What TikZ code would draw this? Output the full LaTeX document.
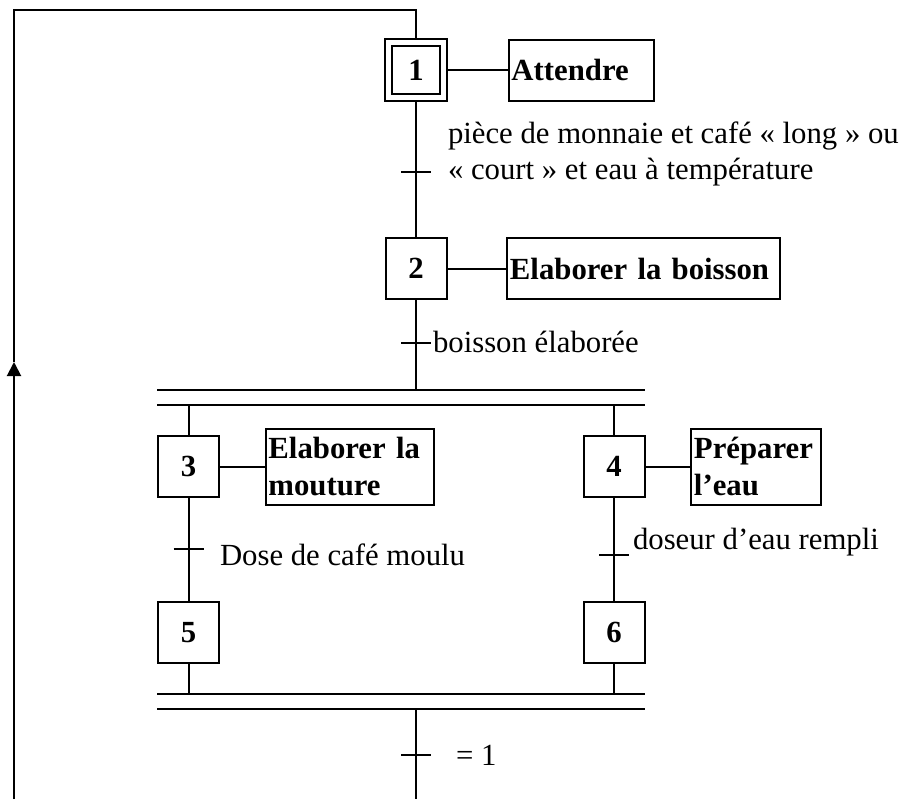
\documentclass[tikz,border=0pt]{standalone}
\usepackage{fontspec}
\setmainfont{Liberation Serif}
\usetikzlibrary{arrows.meta,positioning}

\begin{document}
\begin{tikzpicture}[
    x=0.02cm, y=-0.02cm,
    line width=0.04cm,
    every node/.style={font=\fontsize{17.5}{20.5}\selectfont},
    stepbox/.style={rectangle, draw, minimum size=1.22cm, inner sep=0pt, font=\fontsize{17.5}{20.5}\selectfont\bfseries},
    initstep/.style={stepbox, double, double distance=0.1cm, minimum size=1.1cm, outer sep=0.09cm},
    action/.style={rectangle, draw, align=left, inner xsep=0.05cm, inner ysep=0.05cm, minimum height=1.22cm, font=\fontsize{17.5}{20.5}\selectfont\bfseries},
    cond/.style={anchor=west, align=left, inner sep=0pt},
    arrow/.style={-{Triangle[length=0.28cm, width=0.28cm]}}
]
\useasboundingbox (0,0) rectangle (919,799);

% Steps
\node[initstep] (s1) at (416,70) {1};
\node[stepbox] (s2) at (416,268.5) {2};
\node[stepbox] (s3) at (188.5,466.5) {3};
\node[stepbox] (s4) at (614,466.5) {4};
\node[stepbox] (s5) at (188.5,632.5) {5};
\node[stepbox] (s6) at (614,632.5) {6};

% Actions
\node[action, text width=2.8cm, right=1.2cm of s1] (a1) {Attendre};
\node[action, text width=5.36cm, right=1.18cm of s2] (a2) {Elaborer la boisson};
\node[action, text width=3.26cm, minimum height=1.52cm, right=0.9cm of s3] (a3) {Elaborer la\\mouture};
\node[action, text width=2.5cm, minimum height=1.52cm, right=0.9cm of s4] (a4) {Préparer\\l’eau};
\draw (s1) -- (a1);
\draw (s2) -- (a2);
\draw (s3) -- (a3);
\draw (s4) -- (a4);

% Parallel bars
\coordinate (b1l) at (157,390); \coordinate (b1r) at (645,390);
\coordinate (b2l) at (157,405); \coordinate (b2r) at (645,405);
\coordinate (b3l) at (157,694); \coordinate (b3r) at (645,694);
\coordinate (b4l) at (157,709); \coordinate (b4r) at (645,709);
\draw (b1l) -- (b1r);
\draw (b2l) -- (b2r);
\draw (b3l) -- (b3r);
\draw (b4l) -- (b4r);

% Links
\coordinate (out) at (416,799);
\draw (s1) -- (s2);
\draw (s2) -- (s2 |- b1l);
\draw (s3 |- b2l) -- (s3);
\draw (s4 |- b2l) -- (s4);
\draw (s3) -- (s5);
\draw (s4) -- (s6);
\draw (s5) -- (s5 |- b3l);
\draw (s6) -- (s6 |- b3l);
\draw (s2 |- b4l) -- (out);

% Transitions
\coordinate (t1) at (416,172);
\coordinate (t2) at (416,343);
\coordinate (t3) at (188.5,549);
\coordinate (t4) at (614,555);
\coordinate (t5) at (416,755);
\foreach \t in {t1,t2,t3,t4,t5}
    \draw (\t) ++(-0.3cm,0pt) -- ++(0.6cm,0pt);

\node[cond] (c1) at (447,153.5) {pièce de monnaie et café «~long~» ou\\«~court~» et eau à température};
\node[cond] (c2) at (432,342) {boisson élaborée};
\node[cond] (c3) at (219,555) {Dose de café moulu};
\node[cond] (c4) at (632,542) {doseur d’eau rempli};
\node[cond] (c5) at (455,755) {= 1};

% Loop back to step 1
\coordinate (loopbot) at (14,799);
\coordinate (looparr) at (14,362);
\coordinate (looptop) at (14,10);
\draw[arrow] (loopbot) -- (looparr);
\draw (looparr) -- (looptop) -| (s1);

\end{tikzpicture}
\end{document}
